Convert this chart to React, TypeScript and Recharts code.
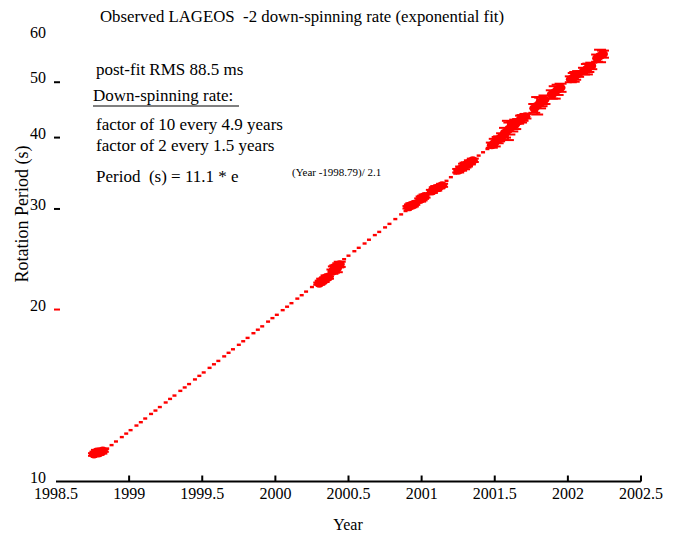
import React from "react";
import { ScatterChart, Scatter, XAxis, YAxis, ErrorBar } from "recharts";

// ─── Data ─────────────────────────────────────────────────────────────────────

const xTicks = [1998.5, 1999, 1999.5, 2000, 2000.5, 2001, 2001.5, 2002, 2002.5];
const yTicks = [10, 20, 30, 40, 50, 60];

// single daily estimates (small dashes, no error bars)
const sparseYears = [
  1998.85, 1998.88, 1998.91, 1998.95, 1998.98, 1999.01, 1999.05, 1999.08, 1999.11, 1999.15,
  1999.18, 1999.21, 1999.25, 1999.28, 1999.31, 1999.35, 1999.38, 1999.41, 1999.45, 1999.48,
  1999.51, 1999.55, 1999.58, 1999.61, 1999.65, 1999.68, 1999.71, 1999.75, 1999.78, 1999.81,
  1999.85, 1999.88, 1999.91, 1999.95, 1999.98, 2000.01, 2000.05, 2000.08, 2000.11, 2000.15,
  2000.18, 2000.21, 2000.25,
  2000.47, 2000.5, 2000.54, 2000.57, 2000.61, 2000.64, 2000.68, 2000.71, 2000.75, 2000.78,
  2000.82, 2000.86, 2000.89,
  2001.17, 2001.2, 2001.23, 2001.39, 2001.42, 2001.45,
];
const sparsePeriods = [
  11.42, 11.58, 11.75, 11.96, 12.13, 12.3, 12.53, 12.7, 12.89, 13.13,
  13.31, 13.5, 13.75, 13.95, 14.14, 14.41, 14.61, 14.81, 15.09, 15.31,
  15.52, 15.81, 16.04, 16.26, 16.56, 16.8, 17.04, 17.35, 17.6, 17.84,
  18.18, 18.44, 18.69, 19.05, 19.32, 19.58, 19.95, 20.23, 20.52, 20.9,
  21.19, 21.5, 21.9,
  24.5, 24.85, 25.3, 25.65, 26.1, 26.5, 27.0, 27.35, 27.85, 28.25,
  28.8, 29.35, 29.75,
  33.6, 34.1, 34.6, 37.2, 37.7, 38.2,
];

// observation campaigns (dense clusters with error bars)
const clusterYears = [
  1998.76, 1998.77, 1998.78, 1998.79, 1998.8, 1998.81, 1998.82,
  2000.3, 2000.31, 2000.32, 2000.33, 2000.34, 2000.35, 2000.36,
  2000.39, 2000.4, 2000.41, 2000.42, 2000.43, 2000.44,
  2000.91, 2000.92, 2000.93, 2000.94, 2000.95,
  2000.99, 2001.0, 2001.01, 2001.02,
  2001.07, 2001.09, 2001.1, 2001.12, 2001.14,
  2001.25, 2001.27, 2001.29, 2001.3, 2001.31, 2001.33, 2001.35,
  2001.48, 2001.5, 2001.52, 2001.53, 2001.55,
  2001.57, 2001.59, 2001.6, 2001.62, 2001.64,
  2001.66, 2001.68, 2001.69, 2001.71,
  2001.77, 2001.79, 2001.81, 2001.82, 2001.84,
  2001.89, 2001.91, 2001.93, 2001.95,
  2002.02, 2002.04, 2002.05, 2002.07,
  2002.11, 2002.13, 2002.14, 2002.16,
  2002.2, 2002.22, 2002.24,
];
const clusterPeriods = [
  11.15, 11.22, 11.28, 11.2, 11.3, 11.25, 11.33,
  22.2, 22.35, 22.5, 22.45, 22.65, 22.8, 22.75,
  23.3, 23.5, 23.7, 23.6, 23.9, 24.0,
  30.2, 30.35, 30.45, 30.5, 30.65,
  31.1, 31.3, 31.45, 31.6,
  32.2, 32.5, 32.6, 32.8, 33.0,
  35.0, 35.3, 35.6, 35.8, 35.9, 36.2, 36.5,
  38.8, 39.2, 39.6, 39.8, 40.2,
  40.8, 41.2, 41.5, 41.8, 42.2,
  42.7, 43.1, 43.3, 43.6,
  45.0, 45.5, 46.0, 46.2, 46.6,
  47.6, 48.0, 48.5, 48.9,
  50.6, 51.0, 51.3, 51.7,
  52.3, 52.7, 53.0, 53.4,
  55.1, 55.6, 56.0,
];
const clusterErrors = [
  0.06, 0.06, 0.08, 0.06, 0.08, 0.06, 0.06,
  0.1, 0.12, 0.15, 0.1, 0.12, 0.15, 0.1,
  0.2, 0.3, 0.2, 0.35, 0.2, 0.25,
  0.15, 0.2, 0.25, 0.2, 0.15,
  0.2, 0.25, 0.2, 0.2,
  0.2, 0.25, 0.3, 0.2, 0.2,
  0.25, 0.3, 0.4, 0.35, 0.3, 0.3, 0.25,
  0.4, 0.6, 0.5, 0.4, 0.5,
  0.8, 1.6, 1.0, 0.8, 0.8,
  0.4, 0.6, 0.5, 0.4,
  0.8, 1.6, 1.0, 0.8, 0.8,
  0.8, 1.2, 1.0, 0.8,
  0.6, 0.9, 0.8, 0.6,
  0.7, 1.1, 0.9, 0.7,
  0.8, 1.4, 0.8,
];

const sparseData = sparseYears.map((x, i) => ({ x, y: sparsePeriods[i] }));
const clusterData = clusterYears.map((x, i) => ({ x, y: clusterPeriods[i], err: clusterErrors[i] }));

// ─── Style ────────────────────────────────────────────────────────────────────

const RED = "#ff0000";
const SERIF = '"Liberation Serif", "Times New Roman", serif';
const W = 685;
const H = 536;

// ─── Ticks (all drawn pointing into the plot) ─────────────────────────────────

function BottomTick({ x, y, payload }: any) {
  const v = payload.value;
  return (
    <g>
      {v !== xTicks[0] && <line x1={x} x2={x} y1={y} y2={y - 6} stroke="#000" strokeWidth={2} />}
      <text x={x} y={y + 17.5} textAnchor="middle" fontSize={16} fontFamily={SERIF} fill="#000">
        {String(v)}
      </text>
    </g>
  );
}

function TopTick({ x, y, payload }: any) {
  if (payload.value === xTicks[0] || payload.value === xTicks[xTicks.length - 1]) return null;
  return <line x1={x} x2={x} y1={y} y2={y + 5} stroke="#000" strokeWidth={2} />;
}

function LeftTick({ x, y, payload }: any) {
  const v = payload.value;
  const edge = v === yTicks[0] || v === yTicks[yTicks.length - 1];
  return (
    <g>
      {!edge && (
        <line x1={x - 2} x2={x + 4} y1={y} y2={y} stroke={v === 20 ? RED : "#000"} strokeWidth={2} />
      )}
      <text x={x - 10} y={y + 1} textAnchor="end" fontSize={16} fontFamily={SERIF} fill="#000">
        {v}
      </text>
    </g>
  );
}

function RightTick({ x, y, payload }: any) {
  const v = payload.value;
  if (v === yTicks[0] || v === yTicks[yTicks.length - 1]) return null;
  return <line x1={x} x2={x - 5} y1={y} y2={y} stroke="#000" strokeWidth={2} />;
}

// ─── Marks ────────────────────────────────────────────────────────────────────

const Dash = (p: any) => <rect x={p.cx - 2} y={p.cy - 1.2} width={4} height={2.4} fill={RED} />;
const Blob = (p: any) => <ellipse cx={p.cx} cy={p.cy} rx={5} ry={4} fill={RED} />;

// ─── Component ────────────────────────────────────────────────────────────────

export default function App() {
  const txt = { fontFamily: SERIF, fill: "#000" };
  return (
    <div style={{ position: "absolute", left: 0, top: 0, width: W, height: H, background: "#fff" }}>
      <ScatterChart width={W} height={H} margin={{ top: 37, right: 44, bottom: 0, left: 0 }}>
        <XAxis
          xAxisId="bottom"
          dataKey="x"
          type="number"
          domain={[1998.5, 2002.5]}
          ticks={xTicks}
          allowDataOverflow
          height={54.5}
          axisLine={{ stroke: "#000", strokeWidth: 2 }}
          tickLine={false}
          tickSize={0}
          tickMargin={0}
          tick={<BottomTick />}
          interval={0}
        />
        <XAxis
          xAxisId="top"
          orientation="top"
          dataKey="x"
          type="number"
          domain={[1998.5, 2002.5]}
          ticks={xTicks}
          allowDataOverflow
          height={0}
          axisLine={{ stroke: "#000", strokeWidth: 2 }}
          tickLine={false}
          tickSize={0}
          tickMargin={0}
          tick={<TopTick />}
          interval={0}
        />
        <YAxis
          yAxisId="left"
          dataKey="y"
          type="number"
          scale="log"
          domain={[10, 60]}
          ticks={yTicks}
          allowDataOverflow
          width={56}
          axisLine={false}
          tickLine={false}
          tickSize={0}
          tickMargin={0}
          tick={<LeftTick />}
          interval={0}
        />
        <YAxis
          yAxisId="right"
          orientation="right"
          dataKey="y"
          type="number"
          scale="log"
          domain={[10, 60]}
          ticks={yTicks}
          allowDataOverflow
          width={0}
          axisLine={{ stroke: "#000", strokeWidth: 2 }}
          tickLine={false}
          tickSize={0}
          tickMargin={0}
          tick={<RightTick />}
          interval={0}
        />
        <Scatter
          data={sparseData}
          dataKey="y"
          xAxisId="bottom"
          yAxisId="left"
          fill={RED}
          shape={Dash}
          isAnimationActive={false}
        />
        <Scatter
          data={clusterData}
          dataKey="y"
          xAxisId="bottom"
          yAxisId="left"
          fill={RED}
          shape={Blob}
          isAnimationActive={false}
        >
          <ErrorBar dataKey="err" direction="y" width={6} stroke={RED} strokeWidth={2} isAnimationActive={false} />
        </Scatter>
      </ScatterChart>

      <svg width={W} height={H} style={{ position: "absolute", left: 0, top: 0, pointerEvents: "none" }}>
        <text x={100} y={22} fontSize={16.8} style={{ whiteSpace: "pre" }} {...txt}>
          Observed LAGEOS  -2 down-spinning rate (exponential fit)
        </text>
        <text x={96} y={75} fontSize={17} {...txt}>post-fit RMS 88.5 ms</text>
        <text x={93} y={101} fontSize={17} {...txt}>Down-spinning rate:</text>
        <line x1={93} x2={239} y1={106} y2={106} stroke="#000" strokeWidth={1.2} />
        <text x={96} y={130} fontSize={17} {...txt}>factor of 10 every 4.9 years</text>
        <text x={96} y={151} fontSize={17} {...txt}>factor of 2 every 1.5 years</text>
        <text x={96} y={182} fontSize={17} style={{ whiteSpace: "pre" }} {...txt}>
          Period  (s) = 11.1 * e
        </text>
        <text x={292} y={176} fontSize={11} {...txt}>(Year -1998.79)/ 2.1</text>
        <text x={348} y={530} fontSize={16} textAnchor="middle" {...txt}>Year</text>
        <text
          x={22}
          y={214}
          fontSize={18}
          textAnchor="middle"
          dominantBaseline="central"
          transform="rotate(-90 22 214)"
          {...txt}
        >
          Rotation Period (s)
        </text>
      </svg>
    </div>
  );
}
